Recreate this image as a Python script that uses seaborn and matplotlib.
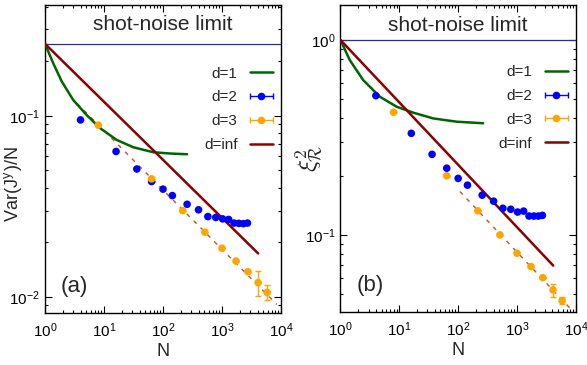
import numpy as np
import matplotlib
matplotlib.use("Agg")
import matplotlib.pyplot as plt
import seaborn as sns
from matplotlib.legend_handler import HandlerErrorbar
from matplotlib.lines import Line2D

sns.set_theme(style="ticks")
plt.rcParams['font.family'] = ['Liberation Sans', 'DejaVu Sans']
plt.rcParams['mathtext.fontset'] = 'cm'

# ---- data ----
# square lattice (d=2) and cubic lattice (d=3) system sizes
N_d2 = [4, 16, 36, 64, 100, 144, 256, 400, 576, 784, 1024, 1296, 1600, 1936, 2304, 2704]
N_d3 = [8, 64, 216, 512, 1000, 1728, 2744, 4096, 5832]

# panel (a): Var(J^y)/N
var_d2 = [0.095, 0.0636, 0.0509, 0.0434, 0.0394, 0.0363, 0.0325, 0.0303, 0.0278,
          0.0275, 0.0270, 0.0268, 0.0256, 0.0255, 0.0254, 0.0256]
var_d3 = [0.0889, 0.0449, 0.0300, 0.0228, 0.0186, 0.0158, 0.0138, 0.0120, 0.0106]
var_d3_err = [0, 0, 0, 0, 0, 0, 0, 0.0019, 0.0010]
N_d1_a = [1, 1.38, 1.92, 3.0, 5.1, 8.6, 16.4, 31.4, 68.5, 130, 256]
var_d1 = [0.25, 0.195, 0.155, 0.1225, 0.101, 0.0855, 0.0737, 0.0671, 0.063, 0.0620, 0.0614]
N_inf_a = [1, 64, 4096]
var_inf = [0.25, 0.066, 0.0174]
N_fit_a = [3.5, 8500]
var_fit = [0.117, 0.0091]

# panel (b): squeezing parameter xi_R^2
xi_d2 = [0.518, 0.332, 0.259, 0.220, 0.195, 0.180, 0.160, 0.149, 0.137,
         0.1354, 0.131, 0.1325, 0.125, 0.125, 0.125, 0.126]
xi_d3 = [0.426, 0.201, 0.133, 0.100, 0.0805, 0.0688, 0.0604, 0.0522, 0.0460]
xi_d3_err = [0, 0, 0, 0, 0, 0, 0, 0.004, 0.002]
N_d1_b = [1, 1.44, 2.43, 4.66, 8.96, 17.2, 37.6, 94, 266]
xi_d1 = [1.0, 0.789, 0.623, 0.512, 0.455, 0.424, 0.396, 0.381, 0.374]
N_inf_b = [1, 4130]
xi_inf = [1.0, 0.0696]
N_fit_b = [107, 8500]
xi_fit = [0.167, 0.0412]

shot_noise = [0.25, 1.0]

# colours (gnuplot-like)
c_d1 = '#006400'
c_d2 = '#0000ff'
c_d3 = '#ffa500'
c_inf = '#8b0000'
c_fit = '#c8501e'
c_sn = '#2a2aa8'

fig = plt.figure(figsize=(5.87, 3.65), dpi=100)
ax_a = fig.add_axes([0.0767, 0.1425, 0.402, 0.844])
ax_b = fig.add_axes([0.580, 0.1450, 0.401, 0.841])


def draw_panel(ax, n1, y1, y2, y3, y3err, ninf, yinf, nfit, yfit, sn, ylim, tag, leg_xy):
    ax.axhline(sn, color=c_sn, lw=0.9, zorder=1)
    sns.lineplot(x=nfit, y=yfit, ax=ax, color=c_fit, lw=1.0, linestyle=(0, (3, 4)), zorder=2)
    sns.lineplot(x=n1, y=y1, ax=ax, color=c_d1, lw=1.8, zorder=3)
    sns.lineplot(x=ninf, y=yinf, ax=ax, color=c_inf, lw=1.8, zorder=3)
    sns.scatterplot(x=N_d2, y=y2, ax=ax, color=c_d2, s=30, edgecolor='none', zorder=4)
    sns.scatterplot(x=N_d3, y=y3, ax=ax, color=c_d3, s=30, edgecolor='none', zorder=4)
    ax.errorbar(N_d3, y3, yerr=y3err, fmt='none', ecolor=c_d3, elinewidth=1.0,
                capsize=2.5, capthick=1.0, zorder=4)

    ax.set_xscale('log')
    ax.set_yscale('log')
    ax.set_xlim(1, 1e4)
    ax.set_ylim(*ylim)
    ax.set_xticks([1, 10, 100, 1000, 10000])
    ax.tick_params(which='both', direction='in', top=True, right=True,
                   labelsize=11, colors='black', width=0.8)
    ax.tick_params(which='major', length=5)
    ax.tick_params(which='minor', length=2.5)
    ax.tick_params(axis='x', which='major', pad=6)
    for sp in ax.spines.values():
        sp.set_linewidth(1.0)
        sp.set_color('black')
    ax.set_xlabel('N', fontsize=13, labelpad=2)

    ax.text(0.5, 0.935, 'shot-noise limit', transform=ax.transAxes,
            ha='center', va='center', fontsize=15)
    ax.text(0.125, 0.085, tag, transform=ax.transAxes,
            ha='center', va='center', fontsize=16)

    # legend, gnuplot style (label left of sample)
    h1 = Line2D([], [], color=c_d1, lw=1.8)
    h2 = ax.errorbar([np.nan], [np.nan], xerr=[[0], [0]], fmt='o', color=c_d2,
                     ms=5.5, mec='none', elinewidth=1.0, capsize=2.5)
    h3 = ax.errorbar([np.nan], [np.nan], xerr=[[0], [0]], fmt='o', color=c_d3,
                     ms=5.5, mec='none', elinewidth=1.0, capsize=2.5)
    h4 = Line2D([], [], color=c_inf, lw=1.8)
    ax.legend([h1, h2, h3, h4], ['d=1', 'd=2', 'd=3', 'd=inf'],
              loc='upper right', bbox_to_anchor=leg_xy, frameon=False,
              markerfirst=False, fontsize=11, handlelength=1.5,
              handletextpad=0.8, labelspacing=0.65, borderaxespad=0, borderpad=0,
              handler_map={type(h2): HandlerErrorbar(xerr_size=0.75)})


draw_panel(ax_a, N_d1_a, var_d1, var_d2, var_d3, var_d3_err, N_inf_a, var_inf,
           N_fit_a, var_fit, shot_noise[0], (0.00816, 0.41), '(a)', (0.965, 0.80))
draw_panel(ax_b, N_d1_b, xi_d1, xi_d2, xi_d3, xi_d3_err, N_inf_b, xi_inf,
           N_fit_b, xi_fit, shot_noise[1], (0.0402, 1.51), '(b)', (0.965, 0.805))

ax_a.set_ylabel('Var(J$^{\\mathdefault{y}}$)/N', fontsize=13)
ax_a.yaxis.set_label_coords(-0.085, 0.42)
ax_b.set_ylabel('$\\xi^2_\\mathcal{R}$', fontsize=18)
ax_b.yaxis.set_label_coords(-0.07, 0.5)

fig.savefig('out.png', dpi=100)
